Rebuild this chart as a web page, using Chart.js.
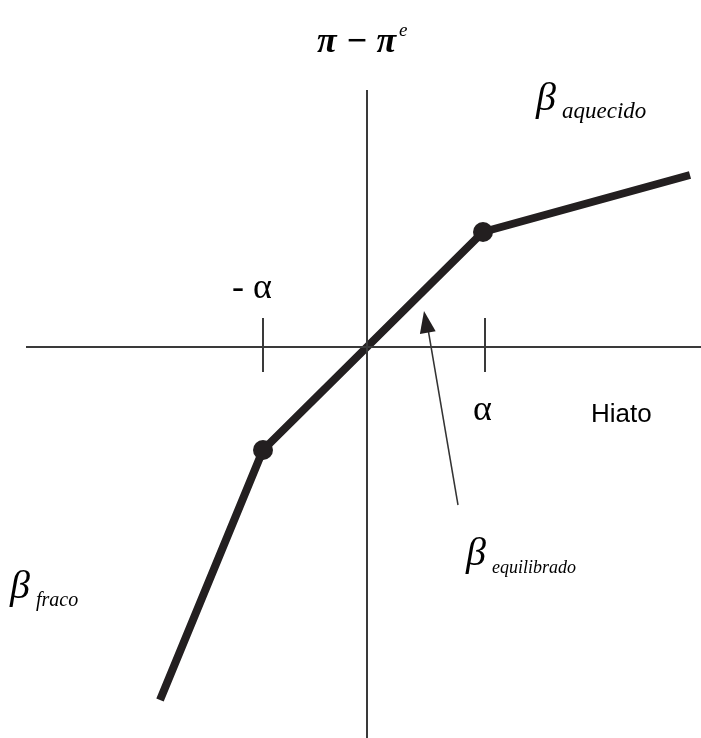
<!DOCTYPE html>
<html>
<head>
<meta charset="utf-8">
<script src="https://cdn.jsdelivr.net/npm/chart.js@4.4.1/dist/chart.umd.min.js"></script>
<style>
  html, body { margin: 0; padding: 0; background: #fff; }
  #wrap { width: 701px; height: 738px; }
</style>
</head>
<body>
<div id="wrap"><canvas id="kinkChart" width="701" height="738"></canvas></div>
<script>
// ── Curva de Phillips com quebras – dados ──
const curveX = [-2.07, -1.04, 1.16, 3.23];
const curveY = [-3.53, -1.03, 1.15, 1.72];
const kinkRadius = [0, 10, 10, 0];

const hAxisX = [-3.41, 3.34];
const vAxisY = [2.57, -3.91];
const tickX = [-1.04, 1.18];
const tickY = [0.29, -0.25];

const arrowX = [0.91, 0.60];
const arrowY = [-1.58, 0.24];
const arrowTip = [0.57, 0.36];

const ink = '#231f20';

const labelsPlugin = {
  id: 'labels',
  afterDatasetsDraw(chart) {
    const { ctx, scales: { x, y } } = chart;
    ctx.save();
    // arrow head
    const tx = x.getPixelForValue(arrowTip[0]), ty = y.getPixelForValue(arrowTip[1]);
    const bx = x.getPixelForValue(arrowX[0]), by = y.getPixelForValue(arrowY[0]);
    const ang = Math.atan2(ty - by, tx - bx);
    const len = 22, half = 8;
    ctx.fillStyle = ink;
    ctx.beginPath();
    ctx.moveTo(tx, ty);
    ctx.lineTo(tx - len * Math.cos(ang) - half * Math.sin(ang), ty - len * Math.sin(ang) + half * Math.cos(ang));
    ctx.lineTo(tx - len * Math.cos(ang) + half * Math.sin(ang), ty - len * Math.sin(ang) - half * Math.cos(ang));
    ctx.closePath();
    ctx.fill();

    ctx.fillStyle = '#000';
    ctx.textBaseline = 'alphabetic';
    ctx.textAlign = 'left';
    // π − π^e
    ctx.font = 'italic bold 36px "Liberation Serif"';
    const head = 'π − π';
    ctx.fillText(head, 317, 52);
    const w = ctx.measureText(head).width;
    ctx.font = 'italic 19px "Liberation Serif"';
    ctx.fillText('e', 317 + w + 3, 36);

    // betas
    const beta = (px, py, sub, size) => {
      ctx.font = 'italic 40px "Liberation Serif"';
      ctx.fillText('β', px, py);
      ctx.font = 'italic ' + size + 'px "Liberation Serif"';
      ctx.fillText(sub, px + 26, py + 8);
    };
    beta(536, 110, 'aquecido', 23);
    beta(466, 565, 'equilibrado', 18);
    beta(10, 598, 'fraco', 20);

    // alpha labels
    ctx.font = '36px "Liberation Serif"';
    ctx.textAlign = 'left';
    ctx.fillText('- α', 232, 298);
    ctx.fillText('α', 473, 420);
    ctx.font = '26px "Liberation Sans"';
    ctx.fillText('Hiato', 591, 422);
    ctx.restore();
  }
};

const lineSet = (xs, ys, width, color) => ({
  data: xs.map((v, i) => ({ x: v, y: ys[i] })),
  borderColor: color, borderWidth: width, pointRadius: 0, showLine: true, fill: false
});

new Chart(document.getElementById('kinkChart').getContext('2d'), {
  type: 'scatter',
  data: {
    datasets: [
      lineSet(hAxisX, [0, 0], 2, '#3a3a3a'),
      lineSet([0, 0], vAxisY, 2, '#3a3a3a'),
      lineSet([tickX[0], tickX[0]], tickY, 2, '#3a3a3a'),
      lineSet([tickX[1], tickX[1]], tickY, 2, '#3a3a3a'),
      lineSet(arrowX, arrowY, 1.5, '#333'),
      {
        data: curveX.map((v, i) => ({ x: v, y: curveY[i] })),
        showLine: true, borderColor: ink, borderWidth: 8, borderCapStyle: 'butt', borderJoinStyle: 'round',
        pointRadius: kinkRadius, pointBackgroundColor: ink, pointBorderColor: ink, pointBorderWidth: 0
      }
    ]
  },
  plugins: [labelsPlugin],
  options: {
    responsive: false, animation: false,
    layout: { padding: 0 },
    plugins: { legend: { display: false }, tooltip: { enabled: false } },
    scales: {
      x: { type: 'linear', min: -3.67, max: 3.34, display: false },
      y: { type: 'linear', min: -3.91, max: 3.47, display: false }
    }
  }
});
</script>
</body>
</html>
